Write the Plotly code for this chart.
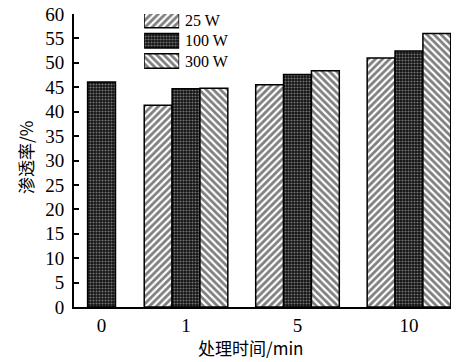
import plotly.graph_objects as go

# Treatment time categories and penetration rate (%) for each power level
times = ["0", "1", "5", "10"]
powers = ["25 W", "100 W", "300 W"]
rate_25w = [None, 41.3, 45.5, 51.0]
rate_100w = [46.1, 44.7, 47.6, 52.4]
rate_300w = [None, 44.8, 48.4, 56.0]

# Layout: position of each time group on the x axis and bar width
group_pos = [0.0, 0.758, 1.758, 2.758]
bar_w = 0.25

serif = "Liberation Serif, Times New Roman, serif"
cjk = "Noto Sans CJK SC, Noto Sans CJK JP, sans-serif"

patterns = [
    dict(shape="/", fgcolor="black", bgcolor="white", size=5, solidity=0.55),
    dict(shape=".", fgcolor="#d8d8d8", bgcolor="#111111", size=3, solidity=0.4),
    dict(shape="\\", fgcolor="black", bgcolor="white", size=5, solidity=0.55),
]
offsets = [-1.5 * bar_w, -0.5 * bar_w, 0.5 * bar_w]

fig = go.Figure()
for name, vals, pat, off in zip(powers, [rate_25w, rate_100w, rate_300w], patterns, offsets):
    fig.add_trace(go.Bar(
        x=group_pos, y=vals, name=name, width=bar_w, offset=off,
        marker=dict(color="white", pattern=pat, line=dict(color="black", width=1.5)),
        showlegend=False,
    ))

# Legend swatches drawn as patterned bars on a small inset axis
for i, (name, pat) in enumerate(zip(powers, patterns)):
    fig.add_trace(go.Bar(
        x=[1], y=[i], orientation="h", width=0.72, xaxis="x2", yaxis="y2",
        marker=dict(color="white", pattern=pat, line=dict(color="black", width=1.5)),
        showlegend=False, hoverinfo="skip",
    ))
    fig.add_annotation(
        x=0.290, y=i, xref="paper", yref="y2", text=name, showarrow=False,
        xanchor="left", yanchor="middle", font=dict(family=serif, size=16, color="black"),
    )

fig.update_layout(
    width=456, height=362,
    margin=dict(l=74, r=5, t=14, b=55),
    paper_bgcolor="white", plot_bgcolor="white",
    barmode="overlay",
    xaxis=dict(
        range=[-0.247, 3.135], tickvals=group_pos, ticktext=times,
        showline=True, linecolor="black", linewidth=2, ticks="", showgrid=False,
        zeroline=False, tickfont=dict(family=serif, size=19, color="black"),
    ),
    yaxis=dict(
        range=[0, 60], dtick=5, showline=True, linecolor="black", linewidth=2,
        ticks="inside", ticklen=5, tickwidth=1.5, tickcolor="black",
        showgrid=False, zeroline=False, ticklabelstandoff=4,
        tickfont=dict(family=serif, size=19, color="black"),
    ),
    xaxis2=dict(domain=[0.186, 0.279], range=[0, 1], visible=False, anchor="y2"),
    yaxis2=dict(domain=[0.80, 1.0], range=[2.573, -0.321], visible=False, anchor="x2"),
)

fig.add_annotation(
    x=(250 - 74) / 377, y=(307 - 347) / 293, xref="paper", yref="paper",
    text="处理时间/min", showarrow=False, xanchor="center", yanchor="middle",
    font=dict(family=cjk, size=17, color="black"),
)
fig.add_annotation(
    x=(25 - 74) / 377, y=(307 - 158) / 293, xref="paper", yref="paper",
    text="渗透率/%", showarrow=False, textangle=-90, xanchor="center", yanchor="middle",
    font=dict(family=cjk, size=17, color="black"),
)

fig.write_html("out.html")
